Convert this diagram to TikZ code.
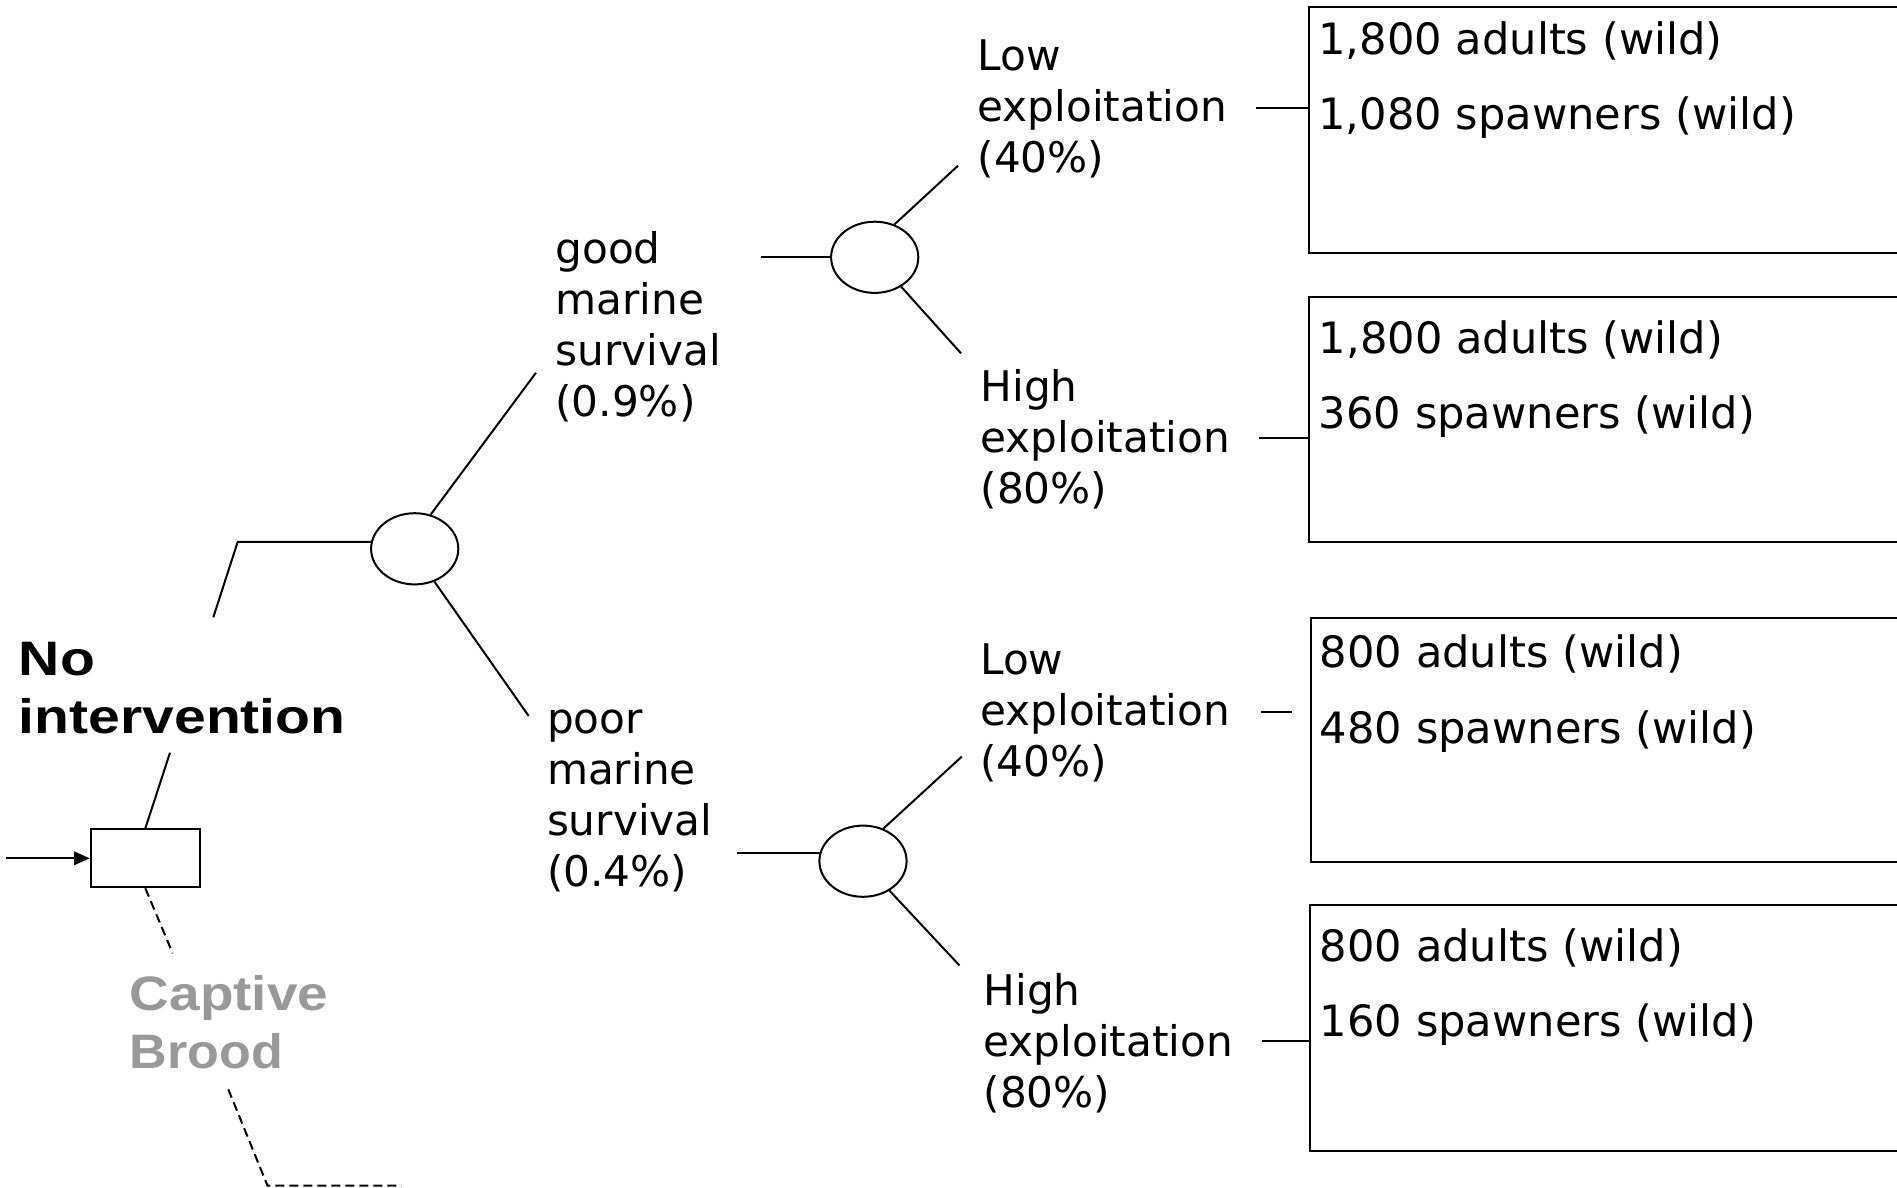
\documentclass[tikz,border=0pt]{standalone}
\usepackage{fontspec}
\usepackage{graphicx}
\setmainfont{DejaVu Sans}
\newfontfamily\boldlab{Liberation Sans}
\usetikzlibrary{shapes.geometric,arrows.meta}
\definecolor{cbgray}{RGB}{153,153,153}
\begin{document}
\begin{tikzpicture}[x=0.5pt,y=-0.5pt,
  lbl/.style={anchor=base west,inner sep=0pt,font=\fontsize{21.1pt}{25.5pt}\selectfont},
  boxtxt/.style={anchor=base west,inner sep=0pt,font=\fontsize{21.6pt}{37.6pt}\selectfont},
  blab/.style={anchor=base west,inner sep=0pt,font=\boldlab\bfseries\fontsize{24.2pt}{29.1pt}\selectfont},
  chance/.style={ellipse,draw,line width=1pt,minimum width=43.6pt,minimum height=35.6pt,inner sep=0pt},
  outbox/.style={draw,line width=1pt,anchor=north west,inner sep=0pt,minimum width=326pt},
  conn/.style={line width=1pt,line join=round},
  dashconn/.style={line width=1pt,dash pattern=on 4.5pt off 2.5pt},
]
\useasboundingbox (0,0) rectangle (1897,1188);
\clip (0,0) rectangle (1897,1188);

% decision box and input arrow
\node[draw,line width=1pt,minimum width=54.65pt,minimum height=29pt,inner sep=0pt] (d0) at (145.35,858.3) {};
\coordinate (in) at (6,858.3);
\draw[conn,-{Triangle[length=7.8pt,width=6.7pt]}] (in) -- (d0.west);

% bold labels
\node[blab] (noint) at (18.5,675) {\vtop{\hbox{\scalebox{1.179}[1]{No}}\hbox{\scalebox{1.179}[1]{intervention}}}};
\node[blab,text=cbgray] (captive) at (129.5,1010.7) {\vtop{\hbox{\scalebox{1.134}[1]{Captive}}\hbox{\scalebox{1.076}[1]{Brood}}}};

% no intervention branch
\coordinate (n1) at (170,752.7);
\draw[conn] (d0.north) -- (n1);
\node[chance] (e1) at (414.7,548.8) {};
\coordinate (n2) at (213.3,617.3);
\coordinate (c1x) at (237.7,0);
\draw[conn] (n2) -- (c1x |- e1.171) -- (e1.171);

% captive brood branch (dashed)
\coordinate (cb1) at (172.7,953.3);
\draw[dashconn] (d0.south) -- (cb1);
\coordinate (cb2) at (228.3,1089.3);
\coordinate (cb3) at (267.5,1185.7);
\coordinate (cb4) at (401.7,1185.7);
\draw[dashconn] (cb2) -- (cb3) -- (cb4);

% marine survival branches
\coordinate (g0) at (536,372.7);
\draw[conn] (e1.65.6) -- (g0);
\coordinate (p0) at (528.7,716);
\draw[conn] (e1.-59.4) -- (p0);

\node[lbl] (good) at (555,263.3) {\vtop{\hbox{good}\hbox{marine}\hbox{survival}\hbox{(0.9\%)}}};
\node[lbl] (poor) at (546.6,733.3) {\vtop{\hbox{poor}\hbox{marine}\hbox{survival}\hbox{(0.4\%)}}};

\node[chance] (e2) at (874.7,257.3) {};
\node[chance] (e3) at (863,861.2) {};
\coordinate (g1) at (761,257.3);
\draw[conn] (g1) -- (e2.west);
\coordinate (p1x) at (736.7,0);
\draw[conn] (p1x |- e3.169.6) -- (e3.169.6);

% exploitation branches
\coordinate (ga) at (958,165.7);
\coordinate (gb) at (961,353.3);
\draw[conn] (e2.59.4) -- (ga);
\draw[conn] (e2.-48.5) -- (gb);
\coordinate (pa) at (961.7,756.7);
\coordinate (pb) at (959.4,965.4);
\draw[conn] (e3.58.8) -- (pa);
\draw[conn] (e3.-48.7) -- (pb);

\node[lbl] (lowA) at (977.2,70.7) {\vtop{\hbox{Low}\hbox{exploitation}\hbox{(40\%)}}};
\node[lbl] (highA) at (980.2,401.7) {\vtop{\hbox{High}\hbox{exploitation}\hbox{(80\%)}}};
\node[lbl] (lowB) at (979.9,674) {\vtop{\hbox{Low}\hbox{exploitation}\hbox{(40\%)}}};
\node[lbl] (highB) at (983.2,1005) {\vtop{\hbox{High}\hbox{exploitation}\hbox{(80\%)}}};

% outcome boxes
\node[outbox,minimum height=122.8pt] (b1) at (1308,6) {};
\node[outbox,minimum height=122.2pt] (b2) at (1308,296.4) {};
\node[outbox,minimum height=122.2pt] (b3) at (1310,617) {};
\node[outbox,minimum height=123.15pt] (b4) at (1309,903.7) {};

\coordinate (l1) at (1256,107.7);
\draw[conn] (l1) -- (l1 -| b1.west);
\coordinate (l2) at (1259,437.5);
\draw[conn] (l2) -- (l2 -| b2.west);
\coordinate (l3) at (1260.6,711.5);
\coordinate (l3e) at (1292,711.5);
\draw[conn] (l3) -- (l3e);
\coordinate (l4) at (1261.7,1040.7);
\draw[conn] (l4) -- (l4 -| b4.west);

\node[boxtxt] (t1) at (1318,54.5) {\vtop{\hbox{1,800 adults (wild)}\hbox{1,080 spawners (wild)}}};
\node[boxtxt] (t2) at (1318.5,353.3) {\vtop{\hbox{1,800 adults (wild)}\hbox{360 spawners (wild)}}};
\node[boxtxt] (t3) at (1319.5,667.8) {\vtop{\hbox{800 adults (wild)}\hbox{480 spawners (wild)}}};
\node[boxtxt] (t4) at (1319.5,961.7) {\vtop{\hbox{800 adults (wild)}\hbox{160 spawners (wild)}}};
\end{tikzpicture}
\end{document}
